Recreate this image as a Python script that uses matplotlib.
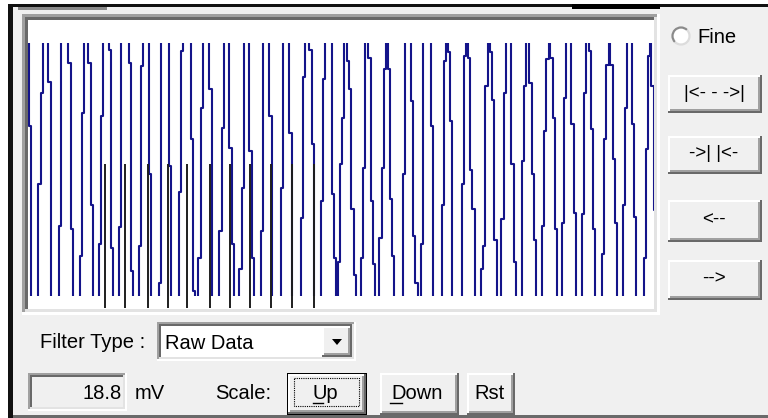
import matplotlib.pyplot as plt
from matplotlib.patches import Rectangle, Circle, Arc, Polygon

# start time of each transition through the display window (ms),
# first one going down, then alternating up / down
cross_t = [28.8, 38.3, 48.3, 59.0, 68.3, 80.0, 88.3, 99.0, 108.5, 119.0,
           128.5, 139.0, 148.5, 159.0, 168.5, 179.0, 190.5, 198.3, 209.3, 219.3,
           229.3, 239.3, 249.3, 261.0, 269.3, 281.0, 289.3, 301.0, 309.3, 321.0,
           331.7, 337.5, 347.0, 361.0, 368.3, 379.3, 387.7, 402.7, 411.0, 421.0,
           431.0, 442.0, 447.7, 462.0, 468.0, 481.0, 490.0, 501.3, 511.3, 522.0,
           529.3, 542.0, 550.3, 562.0, 571.3, 582.0, 588.7, 602.0, 610.3, 623.0,
           632.0, 643.7, 651.3]

# samples that fall inside the window during each transition (mV)
cross_mv = [[3.2], [-1.1, 5.7], [6.5], [-4.2], [7.9, -4.4], [-6.4, 4.2], [7.9, -2.6], [-5.5, 4.0], [8.9, -5.8], [-4.3],
            [7.9, -7.5], [-5.7, 7.7], [-0.3], [-8.4], [0.3], [-1.7, 8.8], [2.3, -9.0], [-6.6, 4.6], [6.0], [-4.6, 3.1],
            [1.6, -5.5], [-7.4, -1.4], [1.4, -6.6], [-4.6], [4.0], [-1.4], [2.7], [-3.6, 6.9], [8.9, 1.9], [-2.3, 6.7],
            [-1.8, -6.6], [-6.9, 0.4, 3.8], [8.1, 6.0, -2.9, -7.8], [-6.6, 0.1], [8.3, -2.3, -7.0], [-5.1, 0.1, 7.5],
            [7.5, -2.2, -6.4], [-0.3], [5.1, -4.9, -8.4], [-5.5],
            [3.2], [-2.6, 8.1], [8.7, 3.6], [-1.1, 8.4], [8.3, 0.0, -2.9], [-7.4, -5.7, 6.2], [8.7, 5.2, -5.2],
            [-3.7, 5.7], [0.4, -6.9], [0.6, 6.2],
            [6.4, -0.3, -5.2], [-4.2, 2.9, 8.2], [8.3, 3.8, -4.4], [-4.0, 5.3], [3.4, -3.2], [-3.3, 5.7],
            [8.8, 3.0, -4.4], [-6.3, 2.3, 7.8], [7.8, 0.8, -4.0], [-2.6, 4.6],
            [3.4, -3.5], [-6.6, 1.5, 8.4], [6.2, -3.0]]

# beat markers (ms)
marker_t = [105.0, 125.0, 147.5, 167.5, 187.0, 209.5, 229.5, 249.5, 271.0, 292.0, 313.5]

scale_mv = 18.8
filter_name = 'Raw Data'

STEP = 2.2          # sample interval (ms)
HI, LO = 40.0, -40.0  # saturated values outside window

BG = '#f0f0f0'
FONT = 'Liberation Sans'
FS = 14.5


def raised(ax, x0, y0, x1, y1, b=2):
    ax.add_patch(Rectangle((x0, y0), x1 - x0, y1 - y0, fc='#696969', ec='none'))
    ax.add_patch(Rectangle((x0, y0), x1 - x0 - b, y1 - y0 - b, fc='#ffffff', ec='none'))
    ax.add_patch(Rectangle((x0 + b, y0 + b), x1 - x0 - 2 * b, y1 - y0 - 2 * b, fc='#a0a0a0', ec='none'))
    ax.add_patch(Rectangle((x0 + b, y0 + b), x1 - x0 - 3 * b, y1 - y0 - 3 * b, fc=BG, ec='none'))


def sunken(ax, x0, y0, x1, y1, face, b=2):
    ax.add_patch(Rectangle((x0, y0), x1 - x0, y1 - y0, fc='#ffffff', ec='none'))
    ax.add_patch(Rectangle((x0, y0), x1 - x0 - b, y1 - y0 - b, fc='#a0a0a0', ec='none'))
    ax.add_patch(Rectangle((x0 + b, y0 + b), x1 - x0 - 2 * b, y1 - y0 - 2 * b, fc='#e3e3e3', ec='none'))
    ax.add_patch(Rectangle((x0 + b, y0 + b), x1 - x0 - 3 * b, y1 - y0 - 3 * b, fc='#696969', ec='none'))
    ax.add_patch(Rectangle((x0 + 2 * b, y0 + 2 * b), x1 - x0 - 4 * b, y1 - y0 - 4 * b, fc=face, ec='none'))


def label(ax, x, y, s, ha='left', va='baseline', fs=FS):
    ax.text(x, y, s, ha=ha, va=va, fontsize=fs, family=FONT, color='black')


fig = plt.figure(figsize=(7.68, 4.18), dpi=100)
bg = fig.add_axes([0, 0, 1, 1])
bg.set_xlim(0, 768)
bg.set_ylim(418, 0)
bg.axis('off')

# window frame
bg.add_patch(Rectangle((0, 0), 768, 418, fc='#ffffff', ec='none'))
bg.add_patch(Rectangle((8, 4), 760, 414, fc=BG, ec='none'))
bg.add_patch(Rectangle((8, 4), 760, 3, fc='#111111', ec='none'))
bg.add_patch(Rectangle((572, 4), 88, 4.5, fc='#000000', ec='none'))
bg.add_patch(Rectangle((8, 4), 5, 414, fc='#111111', ec='none'))
bg.add_patch(Rectangle((18, 7), 89, 3, fc='#8a8a8a', ec='none'))
bg.add_patch(Rectangle((13, 415), 755, 3, fc='#6a6a6a', ec='none'))

# plot panel
sunken(bg, 22, 14, 660, 315, '#ffffff', b=3)

# right side controls
bg.add_patch(Circle((681, 36), 8.5, fc='#ffffff', ec='none'))
bg.add_patch(Arc((681, 36), 17, 17, theta1=135, theta2=315, color='#8a8a8a', lw=1.6))
bg.add_patch(Arc((681, 36), 17, 17, theta1=315, theta2=495, color='#dcdcdc', lw=1.6))
label(bg, 697, 43, 'Fine')

right_buttons = [('|<- - ->|', 75, 113), ('->| |<-', 136, 174), ('<--', 200, 242), ('-->', 260, 300)]
for txt, y0, y1 in right_buttons:
    raised(bg, 668, y0, 762, y1)
    label(bg, 714, (y0 + y1) / 2 - 1, txt, ha='center', va='center', fs=FS - 1)

# filter row
label(bg, 40, 348, 'Filter Type :')
sunken(bg, 157, 322, 356, 361, '#ffffff')
raised(bg, 322, 326, 352, 357)
bg.add_patch(Polygon([(332, 339), (342, 339), (337, 345)], closed=True, fc='black', ec='none'))
label(bg, 165, 349, filter_name)

# scale row
sunken(bg, 28, 373, 127, 411, BG)
label(bg, 122, 399, f'{scale_mv:.1f}', ha='right')
label(bg, 135, 399, 'mV')
label(bg, 215, 399, 'Scale:')

bg.add_patch(Rectangle((287, 373), 80, 42, fc='#000000', ec='none'))
raised(bg, 288, 374, 366, 414)
bg.add_patch(Rectangle((294, 378), 65, 28, fc='none', ec='black', lw=0.8, ls=(0, (1, 1))))
label(bg, 325, 399, 'Up', ha='center')
bg.plot([313, 323], [402.5, 402.5], color='black', lw=1)

raised(bg, 380, 373, 459, 415)
label(bg, 417, 399, 'Down', ha='center')
bg.plot([390, 402], [402.5, 402.5], color='black', lw=1)

raised(bg, 467, 373, 515, 415)
label(bg, 490, 399, 'Rst', ha='center')

# signal trace
t = [cross_t[0] - 10]
v = [HI]
for i, (t0, lv) in enumerate(zip(cross_t, cross_mv)):
    for k, y in enumerate(lv):
        t.append(t0 + k * STEP)
        v.append(y)
    t.append(t0 + len(lv) * STEP)
    v.append(LO if i % 2 == 0 else HI)
t.append(cross_t[-1] + 20)
v.append(v[-1])

ax = fig.add_axes([28 / 768, 1 - 309 / 418, 626 / 768, 289 / 418])
ax.set_xlim(28, 654)
ax.set_ylim(-10.36, 11.11)
ax.axis('off')

line, = ax.plot(t, v, drawstyle='steps-post', color='#14148a', lw=1.5)
clip = Rectangle((28, -scale_mv / 2), 626, scale_mv, transform=ax.transData)
line.set_clip_path(clip)

ax.vlines(marker_t, -10.3, 0.4, color='#1e1e1e', lw=1.4)

fig.savefig('out.png', dpi=100)
